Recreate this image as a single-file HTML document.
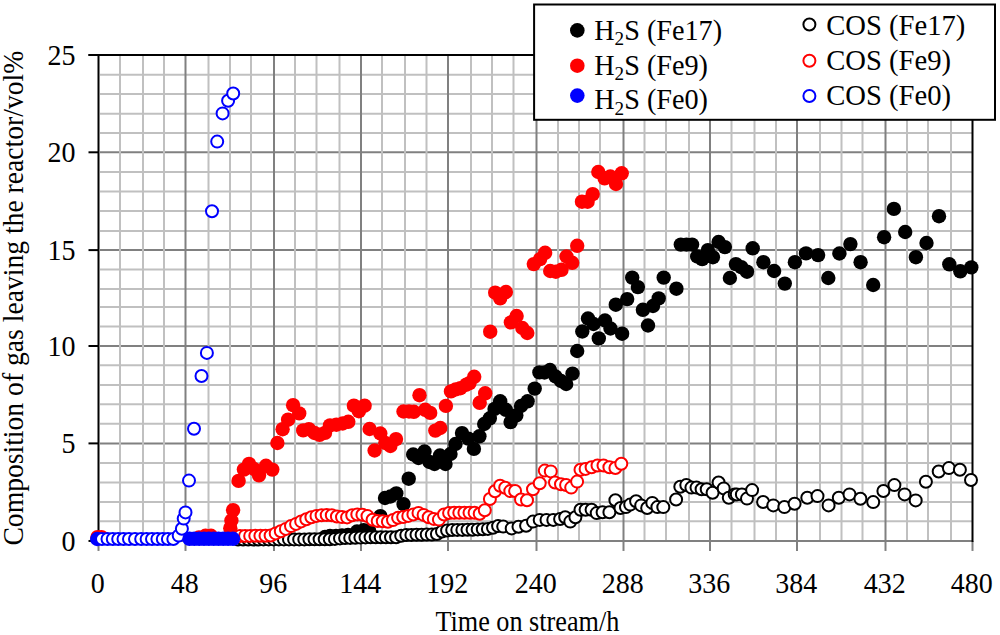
<!DOCTYPE html>
<html><head><meta charset="utf-8"><style>
html,body{margin:0;padding:0;background:#fff;overflow:hidden;width:1000px;height:635px;}
svg{display:block;}
.t{font-family:"Liberation Serif", serif;font-size:28px;fill:#000;}
</style></head><body>
<svg width="1000" height="635" viewBox="0 0 1000 635">
<rect width="1000" height="635" fill="#fff"/>
<line x1="100.00" y1="521.30" x2="972.50" y2="521.30" stroke="#c0c0c0" stroke-width="2"/>
<line x1="100.00" y1="502.00" x2="972.50" y2="502.00" stroke="#c0c0c0" stroke-width="2"/>
<line x1="100.00" y1="482.40" x2="972.50" y2="482.40" stroke="#c0c0c0" stroke-width="2"/>
<line x1="100.00" y1="463.10" x2="972.50" y2="463.10" stroke="#c0c0c0" stroke-width="2"/>
<line x1="100.00" y1="443.40" x2="972.50" y2="443.40" stroke="#808080" stroke-width="2"/>
<line x1="100.00" y1="423.80" x2="972.50" y2="423.80" stroke="#c0c0c0" stroke-width="2"/>
<line x1="100.00" y1="404.30" x2="972.50" y2="404.30" stroke="#c0c0c0" stroke-width="2"/>
<line x1="100.00" y1="384.90" x2="972.50" y2="384.90" stroke="#c0c0c0" stroke-width="2"/>
<line x1="100.00" y1="365.20" x2="972.50" y2="365.20" stroke="#c0c0c0" stroke-width="2"/>
<line x1="100.00" y1="346.00" x2="972.50" y2="346.00" stroke="#808080" stroke-width="2"/>
<line x1="100.00" y1="326.40" x2="972.50" y2="326.40" stroke="#c0c0c0" stroke-width="2"/>
<line x1="100.00" y1="307.00" x2="972.50" y2="307.00" stroke="#c0c0c0" stroke-width="2"/>
<line x1="100.00" y1="289.10" x2="972.50" y2="289.10" stroke="#c0c0c0" stroke-width="2"/>
<line x1="100.00" y1="269.60" x2="972.50" y2="269.60" stroke="#c0c0c0" stroke-width="2"/>
<line x1="100.00" y1="250.10" x2="972.50" y2="250.10" stroke="#808080" stroke-width="2"/>
<line x1="100.00" y1="230.90" x2="972.50" y2="230.90" stroke="#c0c0c0" stroke-width="2"/>
<line x1="100.00" y1="211.00" x2="972.50" y2="211.00" stroke="#c0c0c0" stroke-width="2"/>
<line x1="100.00" y1="191.50" x2="972.50" y2="191.50" stroke="#c0c0c0" stroke-width="2"/>
<line x1="100.00" y1="172.10" x2="972.50" y2="172.10" stroke="#c0c0c0" stroke-width="2"/>
<line x1="100.00" y1="152.30" x2="972.50" y2="152.30" stroke="#808080" stroke-width="2"/>
<line x1="100.00" y1="133.00" x2="972.50" y2="133.00" stroke="#c0c0c0" stroke-width="2"/>
<line x1="100.00" y1="113.80" x2="972.50" y2="113.80" stroke="#c0c0c0" stroke-width="2"/>
<line x1="100.00" y1="94.10" x2="972.50" y2="94.10" stroke="#c0c0c0" stroke-width="2"/>
<line x1="100.00" y1="74.70" x2="972.50" y2="74.70" stroke="#c0c0c0" stroke-width="2"/>
<line x1="120.00" y1="55.00" x2="120.00" y2="540.95" stroke="#c0c0c0" stroke-width="2"/>
<line x1="143.00" y1="55.00" x2="143.00" y2="540.95" stroke="#c0c0c0" stroke-width="2"/>
<line x1="164.00" y1="55.00" x2="164.00" y2="540.95" stroke="#c0c0c0" stroke-width="2"/>
<line x1="208.50" y1="55.00" x2="208.50" y2="540.95" stroke="#c0c0c0" stroke-width="2"/>
<line x1="230.00" y1="55.00" x2="230.00" y2="540.95" stroke="#c0c0c0" stroke-width="2"/>
<line x1="251.00" y1="55.00" x2="251.00" y2="540.95" stroke="#c0c0c0" stroke-width="2"/>
<line x1="295.00" y1="55.00" x2="295.00" y2="540.95" stroke="#c0c0c0" stroke-width="2"/>
<line x1="316.50" y1="55.00" x2="316.50" y2="540.95" stroke="#c0c0c0" stroke-width="2"/>
<line x1="339.50" y1="55.00" x2="339.50" y2="540.95" stroke="#c0c0c0" stroke-width="2"/>
<line x1="382.00" y1="55.00" x2="382.00" y2="540.95" stroke="#c0c0c0" stroke-width="2"/>
<line x1="405.00" y1="55.00" x2="405.00" y2="540.95" stroke="#c0c0c0" stroke-width="2"/>
<line x1="426.50" y1="55.00" x2="426.50" y2="540.95" stroke="#c0c0c0" stroke-width="2"/>
<line x1="471.00" y1="55.00" x2="471.00" y2="540.95" stroke="#c0c0c0" stroke-width="2"/>
<line x1="492.00" y1="55.00" x2="492.00" y2="540.95" stroke="#c0c0c0" stroke-width="2"/>
<line x1="513.50" y1="55.00" x2="513.50" y2="540.95" stroke="#c0c0c0" stroke-width="2"/>
<line x1="558.00" y1="55.00" x2="558.00" y2="540.95" stroke="#c0c0c0" stroke-width="2"/>
<line x1="579.00" y1="55.00" x2="579.00" y2="540.95" stroke="#c0c0c0" stroke-width="2"/>
<line x1="600.00" y1="55.00" x2="600.00" y2="540.95" stroke="#c0c0c0" stroke-width="2"/>
<line x1="644.50" y1="55.00" x2="644.50" y2="540.95" stroke="#c0c0c0" stroke-width="2"/>
<line x1="666.00" y1="55.00" x2="666.00" y2="540.95" stroke="#c0c0c0" stroke-width="2"/>
<line x1="689.00" y1="55.00" x2="689.00" y2="540.95" stroke="#c0c0c0" stroke-width="2"/>
<line x1="731.50" y1="55.00" x2="731.50" y2="540.95" stroke="#c0c0c0" stroke-width="2"/>
<line x1="754.50" y1="55.00" x2="754.50" y2="540.95" stroke="#c0c0c0" stroke-width="2"/>
<line x1="776.00" y1="55.00" x2="776.00" y2="540.95" stroke="#c0c0c0" stroke-width="2"/>
<line x1="820.00" y1="55.00" x2="820.00" y2="540.95" stroke="#c0c0c0" stroke-width="2"/>
<line x1="841.50" y1="55.00" x2="841.50" y2="540.95" stroke="#c0c0c0" stroke-width="2"/>
<line x1="862.50" y1="55.00" x2="862.50" y2="540.95" stroke="#c0c0c0" stroke-width="2"/>
<line x1="907.00" y1="55.00" x2="907.00" y2="540.95" stroke="#c0c0c0" stroke-width="2"/>
<line x1="928.00" y1="55.00" x2="928.00" y2="540.95" stroke="#c0c0c0" stroke-width="2"/>
<line x1="951.00" y1="55.00" x2="951.00" y2="540.95" stroke="#c0c0c0" stroke-width="2"/>
<line x1="185.50" y1="55.00" x2="185.50" y2="540.95" stroke="#808080" stroke-width="2"/>
<line x1="274.00" y1="55.00" x2="274.00" y2="540.95" stroke="#808080" stroke-width="2"/>
<line x1="361.00" y1="55.00" x2="361.00" y2="540.95" stroke="#808080" stroke-width="2"/>
<line x1="448.00" y1="55.00" x2="448.00" y2="540.95" stroke="#808080" stroke-width="2"/>
<line x1="536.50" y1="55.00" x2="536.50" y2="540.95" stroke="#808080" stroke-width="2"/>
<line x1="623.50" y1="55.00" x2="623.50" y2="540.95" stroke="#808080" stroke-width="2"/>
<line x1="710.00" y1="55.00" x2="710.00" y2="540.95" stroke="#808080" stroke-width="2"/>
<line x1="797.00" y1="55.00" x2="797.00" y2="540.95" stroke="#808080" stroke-width="2"/>
<line x1="885.50" y1="55.00" x2="885.50" y2="540.95" stroke="#808080" stroke-width="2"/>
<line x1="98.50" y1="540.95" x2="972.50" y2="540.95" stroke="#808080" stroke-width="2"/>
<line x1="98.50" y1="540.95" x2="98.50" y2="550.95" stroke="#808080" stroke-width="2"/>
<line x1="185.50" y1="540.95" x2="185.50" y2="550.95" stroke="#808080" stroke-width="2"/>
<line x1="274.00" y1="540.95" x2="274.00" y2="550.95" stroke="#808080" stroke-width="2"/>
<line x1="361.00" y1="540.95" x2="361.00" y2="550.95" stroke="#808080" stroke-width="2"/>
<line x1="448.00" y1="540.95" x2="448.00" y2="550.95" stroke="#808080" stroke-width="2"/>
<line x1="536.50" y1="540.95" x2="536.50" y2="550.95" stroke="#808080" stroke-width="2"/>
<line x1="623.50" y1="540.95" x2="623.50" y2="550.95" stroke="#808080" stroke-width="2"/>
<line x1="710.00" y1="540.95" x2="710.00" y2="550.95" stroke="#808080" stroke-width="2"/>
<line x1="797.00" y1="540.95" x2="797.00" y2="550.95" stroke="#808080" stroke-width="2"/>
<line x1="885.50" y1="540.95" x2="885.50" y2="550.95" stroke="#808080" stroke-width="2"/>
<line x1="972.50" y1="540.95" x2="972.50" y2="550.95" stroke="#808080" stroke-width="2"/>
<line x1="88.50" y1="55.00" x2="973.50" y2="55.00" stroke="#000" stroke-width="2"/>
<line x1="972.50" y1="55.00" x2="972.50" y2="541.95" stroke="#000" stroke-width="2"/>
<line x1="98.50" y1="54.00" x2="98.50" y2="540.95" stroke="#000" stroke-width="2"/>
<line x1="88.50" y1="540.95" x2="98.50" y2="540.95" stroke="#000" stroke-width="2"/>
<line x1="88.50" y1="443.40" x2="98.50" y2="443.40" stroke="#000" stroke-width="2"/>
<line x1="88.50" y1="346.00" x2="98.50" y2="346.00" stroke="#000" stroke-width="2"/>
<line x1="88.50" y1="250.10" x2="98.50" y2="250.10" stroke="#000" stroke-width="2"/>
<line x1="88.50" y1="152.30" x2="98.50" y2="152.30" stroke="#000" stroke-width="2"/>
<line x1="88.50" y1="55.00" x2="98.50" y2="55.00" stroke="#000" stroke-width="2"/>
<text transform="translate(75.50,550.55) scale(1.0,1.08)" text-anchor="end" class="t">0</text>
<text transform="translate(75.50,453.00) scale(1.0,1.08)" text-anchor="end" class="t">5</text>
<text transform="translate(75.50,355.60) scale(1.0,1.08)" text-anchor="end" class="t">10</text>
<text transform="translate(75.50,259.70) scale(1.0,1.08)" text-anchor="end" class="t">15</text>
<text transform="translate(75.50,161.90) scale(1.0,1.08)" text-anchor="end" class="t">20</text>
<text transform="translate(75.50,64.60) scale(1.0,1.08)" text-anchor="end" class="t">25</text>
<text transform="translate(97.70,593.40) scale(1.0,1.08)" text-anchor="middle" class="t">0</text>
<text transform="translate(184.70,593.40) scale(1.0,1.08)" text-anchor="middle" class="t">48</text>
<text transform="translate(273.20,593.40) scale(1.0,1.08)" text-anchor="middle" class="t">96</text>
<text transform="translate(360.20,593.40) scale(1.0,1.08)" text-anchor="middle" class="t">144</text>
<text transform="translate(447.20,593.40) scale(1.0,1.08)" text-anchor="middle" class="t">192</text>
<text transform="translate(535.70,593.40) scale(1.0,1.08)" text-anchor="middle" class="t">240</text>
<text transform="translate(622.70,593.40) scale(1.0,1.08)" text-anchor="middle" class="t">288</text>
<text transform="translate(709.20,593.40) scale(1.0,1.08)" text-anchor="middle" class="t">336</text>
<text transform="translate(796.20,593.40) scale(1.0,1.08)" text-anchor="middle" class="t">384</text>
<text transform="translate(884.70,593.40) scale(1.0,1.08)" text-anchor="middle" class="t">432</text>
<text transform="translate(971.70,593.40) scale(1.0,1.08)" text-anchor="middle" class="t">480</text>
<text transform="translate(435.40,630.50) scale(0.937,1.03)" text-anchor="start" class="t">Time on stream/h</text>
<text transform="translate(22.8,545.6) rotate(-90) scale(0.987,1.03)" class="t">Composition of gas leaving the reactor/vol%</text>
<circle cx="325.0" cy="537.0" r="7.2" fill="#000000"/><circle cx="330.0" cy="536.0" r="7.2" fill="#000000"/><circle cx="336.0" cy="536.0" r="7.2" fill="#000000"/><circle cx="342.0" cy="535.5" r="7.2" fill="#000000"/><circle cx="348.0" cy="535.0" r="7.2" fill="#000000"/><circle cx="357.0" cy="531.5" r="7.2" fill="#000000"/><circle cx="363.6" cy="530.3" r="7.2" fill="#000000"/><circle cx="369.0" cy="530.5" r="7.2" fill="#000000"/><circle cx="380.4" cy="516.2" r="7.2" fill="#000000"/><circle cx="385.0" cy="498.0" r="7.2" fill="#000000"/><circle cx="390.5" cy="496.5" r="7.2" fill="#000000"/><circle cx="396.3" cy="493.4" r="7.2" fill="#000000"/><circle cx="403.5" cy="504.1" r="7.2" fill="#000000"/><circle cx="408.7" cy="478.7" r="7.2" fill="#000000"/><circle cx="413.2" cy="454.5" r="7.2" fill="#000000"/><circle cx="418.5" cy="458.0" r="7.2" fill="#000000"/><circle cx="424.5" cy="451.5" r="7.2" fill="#000000"/><circle cx="429.5" cy="462.0" r="7.2" fill="#000000"/><circle cx="434.5" cy="464.0" r="7.2" fill="#000000"/><circle cx="440.0" cy="455.5" r="7.2" fill="#000000"/><circle cx="445.5" cy="464.0" r="7.2" fill="#000000"/><circle cx="450.5" cy="454.0" r="7.2" fill="#000000"/><circle cx="455.5" cy="444.0" r="7.2" fill="#000000"/><circle cx="462.0" cy="433.1" r="7.2" fill="#000000"/><circle cx="468.3" cy="438.6" r="7.2" fill="#000000"/><circle cx="473.9" cy="448.9" r="7.2" fill="#000000"/><circle cx="479.4" cy="436.3" r="7.2" fill="#000000"/><circle cx="484.2" cy="424.0" r="7.2" fill="#000000"/><circle cx="489.8" cy="418.3" r="7.2" fill="#000000"/><circle cx="494.6" cy="408.9" r="7.2" fill="#000000"/><circle cx="500.2" cy="401.3" r="7.2" fill="#000000"/><circle cx="505.9" cy="409.8" r="7.2" fill="#000000"/><circle cx="510.6" cy="422.1" r="7.2" fill="#000000"/><circle cx="516.3" cy="415.5" r="7.2" fill="#000000"/><circle cx="521.0" cy="406.0" r="7.2" fill="#000000"/><circle cx="527.6" cy="401.3" r="7.2" fill="#000000"/><circle cx="534.7" cy="388.6" r="7.2" fill="#000000"/><circle cx="539.4" cy="372.4" r="7.2" fill="#000000"/><circle cx="544.5" cy="372.5" r="7.2" fill="#000000"/><circle cx="550.0" cy="370.0" r="7.2" fill="#000000"/><circle cx="555.5" cy="376.5" r="7.2" fill="#000000"/><circle cx="561.0" cy="381.0" r="7.2" fill="#000000"/><circle cx="566.2" cy="384.0" r="7.2" fill="#000000"/><circle cx="572.5" cy="373.6" r="7.2" fill="#000000"/><circle cx="577.2" cy="351.0" r="7.2" fill="#000000"/><circle cx="582.3" cy="331.5" r="7.2" fill="#000000"/><circle cx="588.0" cy="318.5" r="7.2" fill="#000000"/><circle cx="593.5" cy="324.0" r="7.2" fill="#000000"/><circle cx="598.8" cy="338.4" r="7.2" fill="#000000"/><circle cx="605.0" cy="320.5" r="7.2" fill="#000000"/><circle cx="610.5" cy="328.5" r="7.2" fill="#000000"/><circle cx="615.8" cy="304.7" r="7.2" fill="#000000"/><circle cx="622.1" cy="333.7" r="7.2" fill="#000000"/><circle cx="627.2" cy="299.1" r="7.2" fill="#000000"/><circle cx="632.2" cy="277.6" r="7.2" fill="#000000"/><circle cx="637.9" cy="287.1" r="7.2" fill="#000000"/><circle cx="642.9" cy="309.8" r="7.2" fill="#000000"/><circle cx="648.0" cy="325.5" r="7.2" fill="#000000"/><circle cx="653.0" cy="306.0" r="7.2" fill="#000000"/><circle cx="658.7" cy="298.4" r="7.2" fill="#000000"/><circle cx="663.7" cy="277.6" r="7.2" fill="#000000"/><circle cx="676.4" cy="288.7" r="7.2" fill="#000000"/><circle cx="680.8" cy="244.6" r="7.2" fill="#000000"/><circle cx="686.5" cy="244.6" r="7.2" fill="#000000"/><circle cx="692.1" cy="244.6" r="7.2" fill="#000000"/><circle cx="697.2" cy="256.5" r="7.2" fill="#000000"/><circle cx="702.2" cy="259.1" r="7.2" fill="#000000"/><circle cx="707.9" cy="250.2" r="7.2" fill="#000000"/><circle cx="712.9" cy="257.2" r="7.2" fill="#000000"/><circle cx="718.6" cy="242.0" r="7.2" fill="#000000"/><circle cx="724.9" cy="247.1" r="7.2" fill="#000000"/><circle cx="729.9" cy="278.0" r="7.2" fill="#000000"/><circle cx="735.9" cy="264.1" r="7.2" fill="#000000"/><circle cx="741.3" cy="267.2" r="7.2" fill="#000000"/><circle cx="747.0" cy="271.7" r="7.2" fill="#000000"/><circle cx="752.7" cy="248.3" r="7.2" fill="#000000"/><circle cx="763.4" cy="262.2" r="7.2" fill="#000000"/><circle cx="774.1" cy="271.0" r="7.2" fill="#000000"/><circle cx="784.8" cy="283.6" r="7.2" fill="#000000"/><circle cx="794.9" cy="262.2" r="7.2" fill="#000000"/><circle cx="806.0" cy="253.4" r="7.2" fill="#000000"/><circle cx="818.1" cy="255.1" r="7.2" fill="#000000"/><circle cx="828.3" cy="278.0" r="7.2" fill="#000000"/><circle cx="839.4" cy="253.5" r="7.2" fill="#000000"/><circle cx="850.4" cy="244.1" r="7.2" fill="#000000"/><circle cx="860.6" cy="262.2" r="7.2" fill="#000000"/><circle cx="873.2" cy="285.0" r="7.2" fill="#000000"/><circle cx="884.1" cy="237.2" r="7.2" fill="#000000"/><circle cx="893.9" cy="208.9" r="7.2" fill="#000000"/><circle cx="905.2" cy="232.0" r="7.2" fill="#000000"/><circle cx="915.9" cy="257.2" r="7.2" fill="#000000"/><circle cx="926.5" cy="243.0" r="7.2" fill="#000000"/><circle cx="939.0" cy="216.2" r="7.2" fill="#000000"/><circle cx="949.3" cy="264.3" r="7.2" fill="#000000"/><circle cx="960.3" cy="271.3" r="7.2" fill="#000000"/><circle cx="971.3" cy="267.4" r="7.2" fill="#000000"/>
<circle cx="238.0" cy="539.5" r="6" fill="#fff" stroke="#000000" stroke-width="2"/><circle cx="243.1" cy="539.5" r="6" fill="#fff" stroke="#000000" stroke-width="2"/><circle cx="248.2" cy="539.5" r="6" fill="#fff" stroke="#000000" stroke-width="2"/><circle cx="253.3" cy="539.5" r="6" fill="#fff" stroke="#000000" stroke-width="2"/><circle cx="258.4" cy="539.5" r="6" fill="#fff" stroke="#000000" stroke-width="2"/><circle cx="263.5" cy="539.4" r="6" fill="#fff" stroke="#000000" stroke-width="2"/><circle cx="268.6" cy="539.4" r="6" fill="#fff" stroke="#000000" stroke-width="2"/><circle cx="273.7" cy="539.4" r="6" fill="#fff" stroke="#000000" stroke-width="2"/><circle cx="278.8" cy="539.4" r="6" fill="#fff" stroke="#000000" stroke-width="2"/><circle cx="283.9" cy="539.4" r="6" fill="#fff" stroke="#000000" stroke-width="2"/><circle cx="289.0" cy="539.4" r="6" fill="#fff" stroke="#000000" stroke-width="2"/><circle cx="294.1" cy="539.4" r="6" fill="#fff" stroke="#000000" stroke-width="2"/><circle cx="299.2" cy="539.4" r="6" fill="#fff" stroke="#000000" stroke-width="2"/><circle cx="304.3" cy="539.4" r="6" fill="#fff" stroke="#000000" stroke-width="2"/><circle cx="309.4" cy="539.3" r="6" fill="#fff" stroke="#000000" stroke-width="2"/><circle cx="314.5" cy="539.3" r="6" fill="#fff" stroke="#000000" stroke-width="2"/><circle cx="319.6" cy="539.3" r="6" fill="#fff" stroke="#000000" stroke-width="2"/><circle cx="324.7" cy="539.3" r="6" fill="#fff" stroke="#000000" stroke-width="2"/><circle cx="329.8" cy="539.3" r="6" fill="#fff" stroke="#000000" stroke-width="2"/><circle cx="334.9" cy="538.9" r="6" fill="#fff" stroke="#000000" stroke-width="2"/><circle cx="340.0" cy="538.4" r="6" fill="#fff" stroke="#000000" stroke-width="2"/><circle cx="345.1" cy="538.0" r="6" fill="#fff" stroke="#000000" stroke-width="2"/><circle cx="350.2" cy="537.9" r="6" fill="#fff" stroke="#000000" stroke-width="2"/><circle cx="355.3" cy="537.7" r="6" fill="#fff" stroke="#000000" stroke-width="2"/><circle cx="360.4" cy="537.6" r="6" fill="#fff" stroke="#000000" stroke-width="2"/><circle cx="365.5" cy="537.4" r="6" fill="#fff" stroke="#000000" stroke-width="2"/><circle cx="370.6" cy="537.3" r="6" fill="#fff" stroke="#000000" stroke-width="2"/><circle cx="375.7" cy="537.3" r="6" fill="#fff" stroke="#000000" stroke-width="2"/><circle cx="380.8" cy="537.3" r="6" fill="#fff" stroke="#000000" stroke-width="2"/><circle cx="385.9" cy="537.3" r="6" fill="#fff" stroke="#000000" stroke-width="2"/><circle cx="391.0" cy="537.3" r="6" fill="#fff" stroke="#000000" stroke-width="2"/><circle cx="396.1" cy="537.3" r="6" fill="#fff" stroke="#000000" stroke-width="2"/><circle cx="401.2" cy="535.7" r="6" fill="#fff" stroke="#000000" stroke-width="2"/><circle cx="406.3" cy="535.0" r="6" fill="#fff" stroke="#000000" stroke-width="2"/><circle cx="411.4" cy="534.9" r="6" fill="#fff" stroke="#000000" stroke-width="2"/><circle cx="416.5" cy="534.8" r="6" fill="#fff" stroke="#000000" stroke-width="2"/><circle cx="421.6" cy="534.7" r="6" fill="#fff" stroke="#000000" stroke-width="2"/><circle cx="426.7" cy="534.6" r="6" fill="#fff" stroke="#000000" stroke-width="2"/><circle cx="431.8" cy="534.6" r="6" fill="#fff" stroke="#000000" stroke-width="2"/><circle cx="436.9" cy="534.0" r="6" fill="#fff" stroke="#000000" stroke-width="2"/><circle cx="442.0" cy="531.5" r="6" fill="#fff" stroke="#000000" stroke-width="2"/><circle cx="447.1" cy="530.5" r="6" fill="#fff" stroke="#000000" stroke-width="2"/><circle cx="452.2" cy="530.0" r="6" fill="#fff" stroke="#000000" stroke-width="2"/><circle cx="457.3" cy="529.9" r="6" fill="#fff" stroke="#000000" stroke-width="2"/><circle cx="462.4" cy="529.9" r="6" fill="#fff" stroke="#000000" stroke-width="2"/><circle cx="467.5" cy="529.8" r="6" fill="#fff" stroke="#000000" stroke-width="2"/><circle cx="472.6" cy="529.7" r="6" fill="#fff" stroke="#000000" stroke-width="2"/><circle cx="477.7" cy="529.4" r="6" fill="#fff" stroke="#000000" stroke-width="2"/><circle cx="482.8" cy="529.2" r="6" fill="#fff" stroke="#000000" stroke-width="2"/><circle cx="487.9" cy="528.9" r="6" fill="#fff" stroke="#000000" stroke-width="2"/><circle cx="493.0" cy="527.8" r="6" fill="#fff" stroke="#000000" stroke-width="2"/><circle cx="498.1" cy="526.1" r="6" fill="#fff" stroke="#000000" stroke-width="2"/><circle cx="503.2" cy="526.6" r="6" fill="#fff" stroke="#000000" stroke-width="2"/><circle cx="511.7" cy="528.4" r="6" fill="#fff" stroke="#000000" stroke-width="2"/><circle cx="518.5" cy="526.7" r="6" fill="#fff" stroke="#000000" stroke-width="2"/><circle cx="526.1" cy="525.8" r="6" fill="#fff" stroke="#000000" stroke-width="2"/><circle cx="533.0" cy="521.6" r="6" fill="#fff" stroke="#000000" stroke-width="2"/><circle cx="539.7" cy="519.9" r="6" fill="#fff" stroke="#000000" stroke-width="2"/><circle cx="546.5" cy="519.9" r="6" fill="#fff" stroke="#000000" stroke-width="2"/><circle cx="553.3" cy="519.9" r="6" fill="#fff" stroke="#000000" stroke-width="2"/><circle cx="560.1" cy="519.0" r="6" fill="#fff" stroke="#000000" stroke-width="2"/><circle cx="565.2" cy="517.3" r="6" fill="#fff" stroke="#000000" stroke-width="2"/><circle cx="570.3" cy="521.6" r="6" fill="#fff" stroke="#000000" stroke-width="2"/><circle cx="575.4" cy="517.3" r="6" fill="#fff" stroke="#000000" stroke-width="2"/><circle cx="580.5" cy="509.7" r="6" fill="#fff" stroke="#000000" stroke-width="2"/><circle cx="585.6" cy="509.7" r="6" fill="#fff" stroke="#000000" stroke-width="2"/><circle cx="591.6" cy="509.7" r="6" fill="#fff" stroke="#000000" stroke-width="2"/><circle cx="596.7" cy="513.1" r="6" fill="#fff" stroke="#000000" stroke-width="2"/><circle cx="602.6" cy="512.2" r="6" fill="#fff" stroke="#000000" stroke-width="2"/><circle cx="609.4" cy="512.2" r="6" fill="#fff" stroke="#000000" stroke-width="2"/><circle cx="615.4" cy="500.3" r="6" fill="#fff" stroke="#000000" stroke-width="2"/><circle cx="620.5" cy="508.0" r="6" fill="#fff" stroke="#000000" stroke-width="2"/><circle cx="626.0" cy="507.1" r="6" fill="#fff" stroke="#000000" stroke-width="2"/><circle cx="630.2" cy="504.6" r="6" fill="#fff" stroke="#000000" stroke-width="2"/><circle cx="636.1" cy="501.2" r="6" fill="#fff" stroke="#000000" stroke-width="2"/><circle cx="641.2" cy="505.4" r="6" fill="#fff" stroke="#000000" stroke-width="2"/><circle cx="647.2" cy="508.0" r="6" fill="#fff" stroke="#000000" stroke-width="2"/><circle cx="652.3" cy="502.9" r="6" fill="#fff" stroke="#000000" stroke-width="2"/><circle cx="657.4" cy="507.1" r="6" fill="#fff" stroke="#000000" stroke-width="2"/><circle cx="663.3" cy="507.1" r="6" fill="#fff" stroke="#000000" stroke-width="2"/><circle cx="676.1" cy="499.5" r="6" fill="#fff" stroke="#000000" stroke-width="2"/><circle cx="680.3" cy="486.7" r="6" fill="#fff" stroke="#000000" stroke-width="2"/><circle cx="686.3" cy="485.0" r="6" fill="#fff" stroke="#000000" stroke-width="2"/><circle cx="691.4" cy="487.6" r="6" fill="#fff" stroke="#000000" stroke-width="2"/><circle cx="696.5" cy="487.6" r="6" fill="#fff" stroke="#000000" stroke-width="2"/><circle cx="701.6" cy="489.3" r="6" fill="#fff" stroke="#000000" stroke-width="2"/><circle cx="706.7" cy="489.3" r="6" fill="#fff" stroke="#000000" stroke-width="2"/><circle cx="712.6" cy="492.7" r="6" fill="#fff" stroke="#000000" stroke-width="2"/><circle cx="718.6" cy="482.5" r="6" fill="#fff" stroke="#000000" stroke-width="2"/><circle cx="723.7" cy="488.4" r="6" fill="#fff" stroke="#000000" stroke-width="2"/><circle cx="728.8" cy="497.8" r="6" fill="#fff" stroke="#000000" stroke-width="2"/><circle cx="734.7" cy="494.4" r="6" fill="#fff" stroke="#000000" stroke-width="2"/><circle cx="736.8" cy="494.4" r="6" fill="#fff" stroke="#000000" stroke-width="2"/><circle cx="741.9" cy="494.4" r="6" fill="#fff" stroke="#000000" stroke-width="2"/><circle cx="747.0" cy="498.6" r="6" fill="#fff" stroke="#000000" stroke-width="2"/><circle cx="752.1" cy="490.1" r="6" fill="#fff" stroke="#000000" stroke-width="2"/><circle cx="763.1" cy="502.0" r="6" fill="#fff" stroke="#000000" stroke-width="2"/><circle cx="773.3" cy="505.4" r="6" fill="#fff" stroke="#000000" stroke-width="2"/><circle cx="784.4" cy="507.1" r="6" fill="#fff" stroke="#000000" stroke-width="2"/><circle cx="794.6" cy="503.7" r="6" fill="#fff" stroke="#000000" stroke-width="2"/><circle cx="807.3" cy="497.8" r="6" fill="#fff" stroke="#000000" stroke-width="2"/><circle cx="817.5" cy="496.1" r="6" fill="#fff" stroke="#000000" stroke-width="2"/><circle cx="828.6" cy="505.4" r="6" fill="#fff" stroke="#000000" stroke-width="2"/><circle cx="838.8" cy="497.8" r="6" fill="#fff" stroke="#000000" stroke-width="2"/><circle cx="849.5" cy="494.4" r="6" fill="#fff" stroke="#000000" stroke-width="2"/><circle cx="860.4" cy="498.7" r="6" fill="#fff" stroke="#000000" stroke-width="2"/><circle cx="873.2" cy="502.1" r="6" fill="#fff" stroke="#000000" stroke-width="2"/><circle cx="883.4" cy="491.0" r="6" fill="#fff" stroke="#000000" stroke-width="2"/><circle cx="894.4" cy="485.1" r="6" fill="#fff" stroke="#000000" stroke-width="2"/><circle cx="904.6" cy="494.4" r="6" fill="#fff" stroke="#000000" stroke-width="2"/><circle cx="915.7" cy="500.4" r="6" fill="#fff" stroke="#000000" stroke-width="2"/><circle cx="925.9" cy="481.7" r="6" fill="#fff" stroke="#000000" stroke-width="2"/><circle cx="938.7" cy="471.5" r="6" fill="#fff" stroke="#000000" stroke-width="2"/><circle cx="948.9" cy="468.1" r="6" fill="#fff" stroke="#000000" stroke-width="2"/><circle cx="959.9" cy="469.8" r="6" fill="#fff" stroke="#000000" stroke-width="2"/><circle cx="971.0" cy="480.0" r="6" fill="#fff" stroke="#000000" stroke-width="2"/>
<circle cx="97.5" cy="537.2" r="7.2" fill="#ff0000"/><circle cx="101.5" cy="537.2" r="7.2" fill="#ff0000"/><circle cx="199.0" cy="537.5" r="7.2" fill="#ff0000"/><circle cx="205.5" cy="535.8" r="7.2" fill="#ff0000"/><circle cx="211.0" cy="535.8" r="7.2" fill="#ff0000"/><circle cx="230.3" cy="528.2" r="7.2" fill="#ff0000"/><circle cx="231.4" cy="520.5" r="7.2" fill="#ff0000"/><circle cx="233.1" cy="510.2" r="7.2" fill="#ff0000"/><circle cx="238.6" cy="480.9" r="7.2" fill="#ff0000"/><circle cx="243.9" cy="469.6" r="7.2" fill="#ff0000"/><circle cx="249.0" cy="463.9" r="7.2" fill="#ff0000"/><circle cx="254.0" cy="469.0" r="7.2" fill="#ff0000"/><circle cx="259.0" cy="475.3" r="7.2" fill="#ff0000"/><circle cx="266.0" cy="465.8" r="7.2" fill="#ff0000"/><circle cx="272.3" cy="469.6" r="7.2" fill="#ff0000"/><circle cx="277.4" cy="443.0" r="7.2" fill="#ff0000"/><circle cx="282.6" cy="429.2" r="7.2" fill="#ff0000"/><circle cx="288.1" cy="419.7" r="7.2" fill="#ff0000"/><circle cx="293.1" cy="405.2" r="7.2" fill="#ff0000"/><circle cx="299.2" cy="413.4" r="7.2" fill="#ff0000"/><circle cx="303.2" cy="430.4" r="7.2" fill="#ff0000"/><circle cx="308.9" cy="429.2" r="7.2" fill="#ff0000"/><circle cx="314.5" cy="433.0" r="7.2" fill="#ff0000"/><circle cx="319.6" cy="434.8" r="7.2" fill="#ff0000"/><circle cx="325.0" cy="432.9" r="7.2" fill="#ff0000"/><circle cx="330.0" cy="425.4" r="7.2" fill="#ff0000"/><circle cx="336.4" cy="424.7" r="7.2" fill="#ff0000"/><circle cx="342.7" cy="423.5" r="7.2" fill="#ff0000"/><circle cx="348.3" cy="421.8" r="7.2" fill="#ff0000"/><circle cx="353.9" cy="405.7" r="7.2" fill="#ff0000"/><circle cx="358.9" cy="411.2" r="7.2" fill="#ff0000"/><circle cx="364.6" cy="405.7" r="7.2" fill="#ff0000"/><circle cx="369.6" cy="429.0" r="7.2" fill="#ff0000"/><circle cx="374.6" cy="450.5" r="7.2" fill="#ff0000"/><circle cx="380.3" cy="433.5" r="7.2" fill="#ff0000"/><circle cx="385.3" cy="443.0" r="7.2" fill="#ff0000"/><circle cx="390.4" cy="446.0" r="7.2" fill="#ff0000"/><circle cx="396.0" cy="439.1" r="7.2" fill="#ff0000"/><circle cx="403.5" cy="411.5" r="7.2" fill="#ff0000"/><circle cx="409.0" cy="411.5" r="7.2" fill="#ff0000"/><circle cx="413.8" cy="411.8" r="7.2" fill="#ff0000"/><circle cx="419.5" cy="395.2" r="7.2" fill="#ff0000"/><circle cx="425.2" cy="409.8" r="7.2" fill="#ff0000"/><circle cx="430.2" cy="412.9" r="7.2" fill="#ff0000"/><circle cx="435.3" cy="430.6" r="7.2" fill="#ff0000"/><circle cx="440.3" cy="428.0" r="7.2" fill="#ff0000"/><circle cx="445.9" cy="405.9" r="7.2" fill="#ff0000"/><circle cx="451.0" cy="391.4" r="7.2" fill="#ff0000"/><circle cx="455.7" cy="389.4" r="7.2" fill="#ff0000"/><circle cx="460.4" cy="388.2" r="7.2" fill="#ff0000"/><circle cx="466.3" cy="384.7" r="7.2" fill="#ff0000"/><circle cx="469.5" cy="383.1" r="7.2" fill="#ff0000"/><circle cx="474.2" cy="376.8" r="7.2" fill="#ff0000"/><circle cx="479.7" cy="402.8" r="7.2" fill="#ff0000"/><circle cx="485.2" cy="393.3" r="7.2" fill="#ff0000"/><circle cx="490.2" cy="331.7" r="7.2" fill="#ff0000"/><circle cx="495.2" cy="292.7" r="7.2" fill="#ff0000"/><circle cx="500.2" cy="298.3" r="7.2" fill="#ff0000"/><circle cx="505.9" cy="292.0" r="7.2" fill="#ff0000"/><circle cx="510.9" cy="322.3" r="7.2" fill="#ff0000"/><circle cx="516.6" cy="316.0" r="7.2" fill="#ff0000"/><circle cx="522.3" cy="328.0" r="7.2" fill="#ff0000"/><circle cx="527.3" cy="333.0" r="7.2" fill="#ff0000"/><circle cx="533.8" cy="264.1" r="7.2" fill="#ff0000"/><circle cx="540.1" cy="259.1" r="7.2" fill="#ff0000"/><circle cx="545.1" cy="252.8" r="7.2" fill="#ff0000"/><circle cx="550.2" cy="271.0" r="7.2" fill="#ff0000"/><circle cx="555.8" cy="271.7" r="7.2" fill="#ff0000"/><circle cx="561.5" cy="269.8" r="7.2" fill="#ff0000"/><circle cx="566.5" cy="256.5" r="7.2" fill="#ff0000"/><circle cx="572.2" cy="262.8" r="7.2" fill="#ff0000"/><circle cx="577.2" cy="245.8" r="7.2" fill="#ff0000"/><circle cx="582.0" cy="201.7" r="7.2" fill="#ff0000"/><circle cx="587.6" cy="201.7" r="7.2" fill="#ff0000"/><circle cx="592.7" cy="194.1" r="7.2" fill="#ff0000"/><circle cx="598.3" cy="172.0" r="7.2" fill="#ff0000"/><circle cx="604.6" cy="178.3" r="7.2" fill="#ff0000"/><circle cx="610.3" cy="176.5" r="7.2" fill="#ff0000"/><circle cx="616.0" cy="184.0" r="7.2" fill="#ff0000"/><circle cx="621.7" cy="173.3" r="7.2" fill="#ff0000"/>
<circle cx="240.0" cy="536.0" r="6" fill="#fff" stroke="#ff0000" stroke-width="2"/><circle cx="245.1" cy="535.9" r="6" fill="#fff" stroke="#ff0000" stroke-width="2"/><circle cx="250.2" cy="535.9" r="6" fill="#fff" stroke="#ff0000" stroke-width="2"/><circle cx="255.3" cy="535.8" r="6" fill="#fff" stroke="#ff0000" stroke-width="2"/><circle cx="260.4" cy="535.8" r="6" fill="#fff" stroke="#ff0000" stroke-width="2"/><circle cx="265.5" cy="535.7" r="6" fill="#fff" stroke="#ff0000" stroke-width="2"/><circle cx="270.6" cy="535.5" r="6" fill="#fff" stroke="#ff0000" stroke-width="2"/><circle cx="275.7" cy="533.4" r="6" fill="#fff" stroke="#ff0000" stroke-width="2"/><circle cx="280.8" cy="531.3" r="6" fill="#fff" stroke="#ff0000" stroke-width="2"/><circle cx="285.9" cy="528.9" r="6" fill="#fff" stroke="#ff0000" stroke-width="2"/><circle cx="291.0" cy="526.1" r="6" fill="#fff" stroke="#ff0000" stroke-width="2"/><circle cx="296.1" cy="523.9" r="6" fill="#fff" stroke="#ff0000" stroke-width="2"/><circle cx="301.2" cy="521.4" r="6" fill="#fff" stroke="#ff0000" stroke-width="2"/><circle cx="306.3" cy="519.2" r="6" fill="#fff" stroke="#ff0000" stroke-width="2"/><circle cx="311.4" cy="517.2" r="6" fill="#fff" stroke="#ff0000" stroke-width="2"/><circle cx="316.5" cy="515.9" r="6" fill="#fff" stroke="#ff0000" stroke-width="2"/><circle cx="321.6" cy="515.3" r="6" fill="#fff" stroke="#ff0000" stroke-width="2"/><circle cx="326.7" cy="515.1" r="6" fill="#fff" stroke="#ff0000" stroke-width="2"/><circle cx="331.8" cy="515.2" r="6" fill="#fff" stroke="#ff0000" stroke-width="2"/><circle cx="336.9" cy="516.5" r="6" fill="#fff" stroke="#ff0000" stroke-width="2"/><circle cx="342.0" cy="517.1" r="6" fill="#fff" stroke="#ff0000" stroke-width="2"/><circle cx="347.1" cy="517.4" r="6" fill="#fff" stroke="#ff0000" stroke-width="2"/><circle cx="352.2" cy="515.3" r="6" fill="#fff" stroke="#ff0000" stroke-width="2"/><circle cx="357.3" cy="514.4" r="6" fill="#fff" stroke="#ff0000" stroke-width="2"/><circle cx="362.4" cy="514.7" r="6" fill="#fff" stroke="#ff0000" stroke-width="2"/><circle cx="367.5" cy="516.1" r="6" fill="#fff" stroke="#ff0000" stroke-width="2"/><circle cx="372.6" cy="519.7" r="6" fill="#fff" stroke="#ff0000" stroke-width="2"/><circle cx="377.7" cy="521.0" r="6" fill="#fff" stroke="#ff0000" stroke-width="2"/><circle cx="382.8" cy="521.2" r="6" fill="#fff" stroke="#ff0000" stroke-width="2"/><circle cx="387.9" cy="521.7" r="6" fill="#fff" stroke="#ff0000" stroke-width="2"/><circle cx="393.0" cy="520.1" r="6" fill="#fff" stroke="#ff0000" stroke-width="2"/><circle cx="398.1" cy="517.8" r="6" fill="#fff" stroke="#ff0000" stroke-width="2"/><circle cx="403.2" cy="517.0" r="6" fill="#fff" stroke="#ff0000" stroke-width="2"/><circle cx="408.3" cy="515.9" r="6" fill="#fff" stroke="#ff0000" stroke-width="2"/><circle cx="413.4" cy="514.4" r="6" fill="#fff" stroke="#ff0000" stroke-width="2"/><circle cx="418.5" cy="512.9" r="6" fill="#fff" stroke="#ff0000" stroke-width="2"/><circle cx="423.6" cy="514.9" r="6" fill="#fff" stroke="#ff0000" stroke-width="2"/><circle cx="428.7" cy="517.3" r="6" fill="#fff" stroke="#ff0000" stroke-width="2"/><circle cx="433.8" cy="518.9" r="6" fill="#fff" stroke="#ff0000" stroke-width="2"/><circle cx="438.9" cy="519.6" r="6" fill="#fff" stroke="#ff0000" stroke-width="2"/><circle cx="444.0" cy="514.5" r="6" fill="#fff" stroke="#ff0000" stroke-width="2"/><circle cx="449.1" cy="513.0" r="6" fill="#fff" stroke="#ff0000" stroke-width="2"/><circle cx="454.2" cy="512.7" r="6" fill="#fff" stroke="#ff0000" stroke-width="2"/><circle cx="459.3" cy="512.7" r="6" fill="#fff" stroke="#ff0000" stroke-width="2"/><circle cx="464.4" cy="512.7" r="6" fill="#fff" stroke="#ff0000" stroke-width="2"/><circle cx="469.5" cy="512.7" r="6" fill="#fff" stroke="#ff0000" stroke-width="2"/><circle cx="474.6" cy="512.7" r="6" fill="#fff" stroke="#ff0000" stroke-width="2"/><circle cx="479.7" cy="513.7" r="6" fill="#fff" stroke="#ff0000" stroke-width="2"/><circle cx="484.8" cy="510.2" r="6" fill="#fff" stroke="#ff0000" stroke-width="2"/><circle cx="489.9" cy="499.0" r="6" fill="#fff" stroke="#ff0000" stroke-width="2"/><circle cx="495.0" cy="491.2" r="6" fill="#fff" stroke="#ff0000" stroke-width="2"/><circle cx="500.1" cy="485.8" r="6" fill="#fff" stroke="#ff0000" stroke-width="2"/><circle cx="505.2" cy="487.8" r="6" fill="#fff" stroke="#ff0000" stroke-width="2"/><circle cx="510.3" cy="491.1" r="6" fill="#fff" stroke="#ff0000" stroke-width="2"/><circle cx="515.1" cy="491.0" r="6" fill="#fff" stroke="#ff0000" stroke-width="2"/><circle cx="521.0" cy="499.5" r="6" fill="#fff" stroke="#ff0000" stroke-width="2"/><circle cx="527.0" cy="500.3" r="6" fill="#fff" stroke="#ff0000" stroke-width="2"/><circle cx="533.0" cy="489.3" r="6" fill="#fff" stroke="#ff0000" stroke-width="2"/><circle cx="539.7" cy="483.3" r="6" fill="#fff" stroke="#ff0000" stroke-width="2"/><circle cx="544.8" cy="470.6" r="6" fill="#fff" stroke="#ff0000" stroke-width="2"/><circle cx="550.8" cy="471.4" r="6" fill="#fff" stroke="#ff0000" stroke-width="2"/><circle cx="555.0" cy="482.5" r="6" fill="#fff" stroke="#ff0000" stroke-width="2"/><circle cx="561.0" cy="484.2" r="6" fill="#fff" stroke="#ff0000" stroke-width="2"/><circle cx="566.1" cy="485.0" r="6" fill="#fff" stroke="#ff0000" stroke-width="2"/><circle cx="571.2" cy="487.6" r="6" fill="#fff" stroke="#ff0000" stroke-width="2"/><circle cx="577.1" cy="481.6" r="6" fill="#fff" stroke="#ff0000" stroke-width="2"/><circle cx="580.5" cy="469.7" r="6" fill="#fff" stroke="#ff0000" stroke-width="2"/><circle cx="585.6" cy="468.9" r="6" fill="#fff" stroke="#ff0000" stroke-width="2"/><circle cx="591.6" cy="467.2" r="6" fill="#fff" stroke="#ff0000" stroke-width="2"/><circle cx="597.5" cy="465.5" r="6" fill="#fff" stroke="#ff0000" stroke-width="2"/><circle cx="603.5" cy="465.5" r="6" fill="#fff" stroke="#ff0000" stroke-width="2"/><circle cx="609.4" cy="467.2" r="6" fill="#fff" stroke="#ff0000" stroke-width="2"/><circle cx="615.4" cy="468.0" r="6" fill="#fff" stroke="#ff0000" stroke-width="2"/><circle cx="621.3" cy="463.8" r="6" fill="#fff" stroke="#ff0000" stroke-width="2"/>
<circle cx="97.2" cy="539.0" r="7.2" fill="#0000ff"/>
<circle cx="102.0" cy="539.0" r="6" fill="#fff" stroke="#0000ff" stroke-width="2"/><circle cx="107.5" cy="539.0" r="6" fill="#fff" stroke="#0000ff" stroke-width="2"/><circle cx="112.8" cy="539.0" r="6" fill="#fff" stroke="#0000ff" stroke-width="2"/><circle cx="118.2" cy="539.0" r="6" fill="#fff" stroke="#0000ff" stroke-width="2"/><circle cx="123.5" cy="539.0" r="6" fill="#fff" stroke="#0000ff" stroke-width="2"/><circle cx="129.0" cy="539.0" r="6" fill="#fff" stroke="#0000ff" stroke-width="2"/><circle cx="135.0" cy="539.0" r="6" fill="#fff" stroke="#0000ff" stroke-width="2"/><circle cx="141.2" cy="539.0" r="6" fill="#fff" stroke="#0000ff" stroke-width="2"/><circle cx="146.6" cy="539.0" r="6" fill="#fff" stroke="#0000ff" stroke-width="2"/><circle cx="152.0" cy="539.0" r="6" fill="#fff" stroke="#0000ff" stroke-width="2"/><circle cx="157.4" cy="539.0" r="6" fill="#fff" stroke="#0000ff" stroke-width="2"/><circle cx="162.8" cy="539.0" r="6" fill="#fff" stroke="#0000ff" stroke-width="2"/><circle cx="167.9" cy="539.0" r="6" fill="#fff" stroke="#0000ff" stroke-width="2"/><circle cx="173.3" cy="539.0" r="6" fill="#fff" stroke="#0000ff" stroke-width="2"/><circle cx="178.7" cy="535.6" r="6" fill="#fff" stroke="#0000ff" stroke-width="2"/><circle cx="181.9" cy="528.8" r="6" fill="#fff" stroke="#0000ff" stroke-width="2"/><circle cx="183.7" cy="518.6" r="6" fill="#fff" stroke="#0000ff" stroke-width="2"/><circle cx="185.5" cy="512.4" r="6" fill="#fff" stroke="#0000ff" stroke-width="2"/><circle cx="189.0" cy="480.6" r="6" fill="#fff" stroke="#0000ff" stroke-width="2"/><circle cx="194.0" cy="428.8" r="6" fill="#fff" stroke="#0000ff" stroke-width="2"/><circle cx="201.5" cy="376.0" r="6" fill="#fff" stroke="#0000ff" stroke-width="2"/><circle cx="206.9" cy="352.9" r="6" fill="#fff" stroke="#0000ff" stroke-width="2"/><circle cx="212.0" cy="211.2" r="6" fill="#fff" stroke="#0000ff" stroke-width="2"/><circle cx="217.2" cy="141.6" r="6" fill="#fff" stroke="#0000ff" stroke-width="2"/><circle cx="222.6" cy="113.4" r="6" fill="#fff" stroke="#0000ff" stroke-width="2"/><circle cx="228.1" cy="100.7" r="6" fill="#fff" stroke="#0000ff" stroke-width="2"/><circle cx="233.2" cy="93.5" r="6" fill="#fff" stroke="#0000ff" stroke-width="2"/>
<circle cx="189.5" cy="538.8" r="7.2" fill="#0000ff"/><circle cx="194.3" cy="538.8" r="7.2" fill="#0000ff"/><circle cx="199.2" cy="538.8" r="7.2" fill="#0000ff"/><circle cx="204.0" cy="538.8" r="7.2" fill="#0000ff"/><circle cx="208.8" cy="538.8" r="7.2" fill="#0000ff"/><circle cx="213.7" cy="538.8" r="7.2" fill="#0000ff"/><circle cx="218.5" cy="538.8" r="7.2" fill="#0000ff"/><circle cx="223.3" cy="538.8" r="7.2" fill="#0000ff"/><circle cx="228.1" cy="538.8" r="7.2" fill="#0000ff"/><circle cx="233.0" cy="538.8" r="7.2" fill="#0000ff"/>
<rect x="534.1" y="4.5" width="460.9" height="115.3" fill="#fff" stroke="#000" stroke-width="2"/>
<circle cx="577.3" cy="30.4" r="7.3" fill="#000000"/>
<text transform="translate(594.20,40.30) scale(1.008,1.03)" text-anchor="start" class="t">H<tspan font-size="19" dy="5">2</tspan><tspan dy="-5">S (Fe17)</tspan></text>
<circle cx="809.4" cy="24.5" r="6" fill="#fff" stroke="#000000" stroke-width="2"/>
<text transform="translate(826.20,34.50) scale(1.022,1.05)" text-anchor="start" class="t">COS (Fe17)</text>
<circle cx="577.3" cy="65.7" r="7.3" fill="#ff0000"/>
<text transform="translate(594.20,75.20) scale(1.008,1.03)" text-anchor="start" class="t">H<tspan font-size="19" dy="5">2</tspan><tspan dy="-5">S (Fe9)</tspan></text>
<circle cx="809.4" cy="60.7" r="6" fill="#fff" stroke="#ff0000" stroke-width="2"/>
<text transform="translate(826.20,69.90) scale(1.022,1.05)" text-anchor="start" class="t">COS (Fe9)</text>
<circle cx="577.3" cy="95.6" r="7.3" fill="#0000ff"/>
<text transform="translate(594.20,109.40) scale(1.008,1.03)" text-anchor="start" class="t">H<tspan font-size="19" dy="5">2</tspan><tspan dy="-5">S (Fe0)</tspan></text>
<circle cx="809.4" cy="96.0" r="6" fill="#fff" stroke="#0000ff" stroke-width="2"/>
<text transform="translate(826.20,105.40) scale(1.022,1.05)" text-anchor="start" class="t">COS (Fe0)</text>
</svg>
</body></html>
